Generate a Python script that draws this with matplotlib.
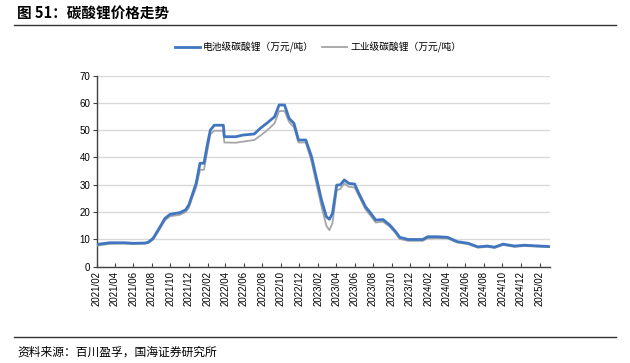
import matplotlib
matplotlib.use("Agg")
import matplotlib.pyplot as plt
import matplotlib.dates as mdates
from matplotlib.lines import Line2D
import pandas as pd

plt.rcParams['font.family'] = ['Liberation Sans', 'Noto Sans CJK SC', 'DejaVu Sans']
CJK = ['Noto Sans CJK SC', 'DejaVu Sans']

# values (万元/吨)
dates = ["2021-02-01", "2021-03-15", "2021-05-01", "2021-06-01", "2021-07-10", "2021-07-20",
         "2021-08-05", "2021-08-28", "2021-09-13", "2021-09-30", "2021-11-01", "2021-11-20",
         "2021-12-01", "2021-12-10", "2021-12-25", "2022-01-07", "2022-01-20", "2022-02-01",
         "2022-02-10", "2022-02-23", "2022-03-25", "2022-03-28", "2022-05-05", "2022-05-28",
         "2022-07-05", "2022-07-25", "2022-08-15", "2022-09-10", "2022-09-25", "2022-10-13",
         "2022-10-28", "2022-11-13", "2022-11-28", "2022-12-22", "2023-01-10", "2023-01-25",
         "2023-02-12", "2023-02-28", "2023-03-10", "2023-03-20", "2023-04-03", "2023-04-15",
         "2023-04-28", "2023-05-13", "2023-06-01", "2023-06-15", "2023-07-07", "2023-07-25",
         "2023-08-10", "2023-09-03", "2023-09-25", "2023-10-15", "2023-10-28", "2023-11-25",
         "2024-01-12", "2024-01-28", "2024-03-01", "2024-04-03", "2024-05-05", "2024-06-10",
         "2024-07-12", "2024-08-12", "2024-09-05", "2024-10-03", "2024-11-10", "2024-12-12",
         "2025-03-07"]
battery = [8.2, 8.8, 8.8, 8.6, 8.7, 9.0,
           10.4, 14.6, 17.7, 19.2, 19.8, 20.8,
           22.6, 25.6, 30.5, 37.9, 37.9, 45.2,
           50.0, 51.8, 51.8, 47.6, 47.6, 48.2,
           48.6, 50.7, 52.5, 54.9, 59.2, 59.2,
           54.3, 52.5, 46.4, 46.4, 40.3, 33.0,
           24.4, 18.3, 17.4, 19.5, 29.9, 30.0,
           31.8, 30.5, 30.3, 26.9, 22.0, 19.5,
           17.1, 17.3, 15.3, 12.8, 10.8, 10.0,
           10.0, 11.0, 11.0, 10.8, 9.2, 8.6,
           7.3, 7.6, 7.2, 8.3, 7.6, 7.9,
           7.4]
industrial = [7.7, 8.4, 8.5, 8.4, 8.5, 8.7,
              9.9, 14.0, 17.0, 18.5, 19.0, 20.0,
              21.6, 24.5, 29.0, 35.5, 35.5, 43.0,
              48.5, 49.8, 49.8, 45.5, 45.4, 45.8,
              46.4, 48.0, 49.8, 52.5, 57.0, 57.0,
              53.0, 51.0, 45.5, 45.5, 38.5, 31.0,
              22.0, 15.0, 13.4, 16.0, 28.0, 28.5,
              30.5, 29.3, 29.0, 26.0, 21.0, 18.5,
              16.2, 16.5, 14.7, 12.2, 10.2, 9.5,
              9.5, 10.4, 10.5, 10.4, 8.9, 8.3,
              7.0, 7.3, 6.9, 8.0, 7.3, 7.6,
              7.2]
tick_dates = pd.date_range("2021-02-01", "2025-02-01", freq="2MS")

d = pd.to_datetime(dates)

fig = plt.figure(figsize=(6.3, 3.63), dpi=100)
ax = fig.add_axes([0.154, 0.265, 0.719, 0.527])

ax.plot(d, industrial, color="#a6a6a6", lw=1.3, label="工业级碳酸锂（万元/吨）", zorder=3)
ax.plot(d, battery, color="#3f76bf", lw=2.0, label="电池级碳酸锂（万元/吨）", zorder=4)

ax.set_ylim(0, 70)
ax.set_yticks(range(0, 71, 10))
ax.set_xlim(d[0], d[-1])
ax.set_xticks(tick_dates)
ax.xaxis.set_major_formatter(mdates.DateFormatter("%Y/%m"))
plt.setp(ax.get_xticklabels(), rotation=90, fontsize=7)
ax.tick_params(axis="y", labelsize=7, length=3, width=0.8, color="#404040", pad=2)
ax.tick_params(axis="x", direction="in", length=3, width=0.8, color="#404040", pad=3)
ax.grid(axis="y", color="#d9d9d9", lw=1)
ax.set_axisbelow(True)
for s in ["top", "right"]:
    ax.spines[s].set_visible(False)
for s in ["left", "bottom"]:
    ax.spines[s].set_color("#404040")
    ax.spines[s].set_linewidth(1)

h, l = ax.get_legend_handles_labels()
fig.legend(h[::-1], l[::-1], loc="center", bbox_to_anchor=(0.505, 0.870), ncol=2, frameon=False,
           prop={"family": CJK, "size": 7}, handlelength=2.6, columnspacing=0.8, handletextpad=0.3)

fig.text(0.027, 0.962, "图 51：碳酸锂价格走势", family=CJK, fontsize=10.5, fontweight="bold",
         va="center", ha="left")
fig.add_artist(Line2D([0.022, 0.978], [0.931, 0.931], color="#333333", lw=1))
fig.add_artist(Line2D([0.022, 0.978], [0.072, 0.072], color="#333333", lw=1))
fig.text(0.027, 0.030, "资料来源：百川盈孚，国海证券研究所", family=CJK, fontsize=8.5,
         va="center", ha="left")

fig.savefig("out.png", dpi=100, facecolor="white")
